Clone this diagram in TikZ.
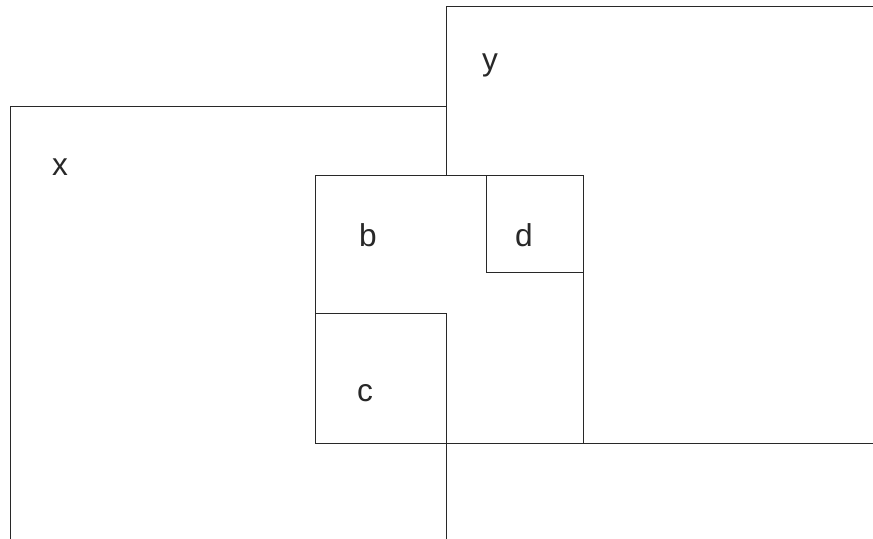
\documentclass[tikz,border=0pt]{standalone}
\usepackage{fontspec}
\setmainfont{Liberation Sans}
\usetikzlibrary{positioning}
\definecolor{ink}{RGB}{40,40,40}

\begin{document}
\begin{tikzpicture}[x=0.03cm,y=-0.03cm,
    box/.style={draw=ink,line width=0.8pt},
    lbl/.style={font=\fontsize{27}{30}\selectfont,text=ink}]
    % page
    \useasboundingbox (0,0) rectangle (873,539);
    \clip (0,0) rectangle (873,539);
    \fill[white] (0,0) rectangle (873,539);

    % sets x and y run off the page
    \draw[box] (10,106) rectangle (446,580);
    \draw[box] (446,6) rectangle (900,443);
    % b over both, c and d inside
    \draw[box,fill=white] (315,175) rectangle (583,443);
    \draw[box] (315,313) rectangle (446,443);
    \draw[box] (486,175) rectangle (583,272);

    \node[lbl] (x) at (60,167) {x};
    \node[lbl] (y) at (490,65) {y};
    \node[lbl] (b) at (368,235) {b};
    \node[lbl] (d) at (524,235) {d};
    \node[lbl] (c) at (365,393) {c};
\end{tikzpicture}
\end{document}
